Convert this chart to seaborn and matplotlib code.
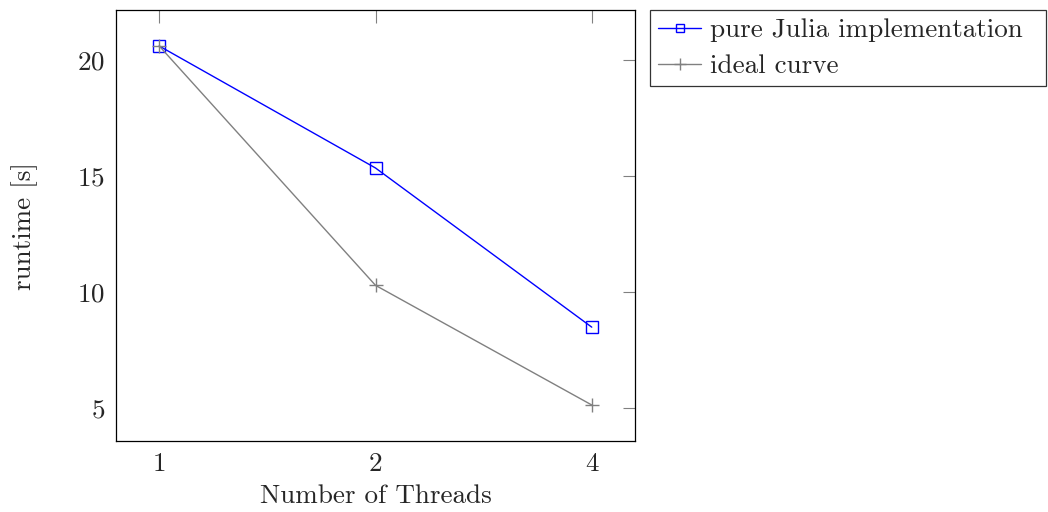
import matplotlib
matplotlib.use("Agg")
import matplotlib.pyplot as plt
import seaborn as sns
import pandas as pd

threads = ["1", "2", "4"]
julia_runtime = [20.6, 15.35, 8.5]
ideal_runtime = [20.6, 10.3, 5.15]
y_ticks = [5, 10, 15, 20]

sns.set_style("white")
plt.rcParams["font.family"] = "serif"
plt.rcParams["font.serif"] = ["cmr10", "DejaVu Serif"]
plt.rcParams["mathtext.fontset"] = "cm"
plt.rcParams["axes.formatter.use_mathtext"] = True

FS = 19.5

df = pd.DataFrame({
    "pos": list(range(len(threads))) * 2,
    "runtime": julia_runtime + ideal_runtime,
    "series": ["pure Julia implementation"] * 3 + ["ideal curve"] * 3,
})

fig = plt.figure(figsize=(10.48, 5.12), dpi=100)
ax = fig.add_axes([116 / 1048, 1 - 441 / 512, (635 - 116) / 1048, (441 - 10) / 512])

sns.lineplot(data=df[df.series == "pure Julia implementation"], x="pos", y="runtime",
             color="#0000ff", marker="s", markersize=8, markerfacecolor="none",
             markeredgecolor="#0000ff", markeredgewidth=1.0, linewidth=1.0,
             label="pure Julia implementation", ax=ax)
sns.lineplot(data=df[df.series == "ideal curve"], x="pos", y="runtime",
             color="#808080", marker="+", markersize=10, markeredgewidth=1.0,
             markeredgecolor="#808080", markerfacecolor="#808080",
             linewidth=1.0, label="ideal curve", ax=ax)

ax.set_xlim(-0.2, 2.2)
ax.set_ylim(3.6, 22.15)
ax.set_xticks(range(len(threads)))
ax.set_xticklabels(threads)
ax.set_yticks(y_ticks)
ax.set_xlabel("Number of Threads", fontsize=FS, labelpad=6)
ax.set_ylabel("runtime [s]", fontsize=FS, labelpad=28)
ax.tick_params(axis="both", direction="in", length=9, width=0.8, color="#808080",
               top=True, right=True, labelsize=FS, pad=8)
for s in ax.spines.values():
    s.set_color("black")
    s.set_linewidth(0.9)
    s.set_visible(True)

leg = ax.legend(loc="upper left", bbox_to_anchor=(650 / 1048, 1 - 90 / 512, 396 / 1048, 80 / 512),
                bbox_transform=fig.transFigure, mode="expand", frameon=True, fancybox=False,
                fontsize=FS, handlelength=1.6, handletextpad=0.3, borderaxespad=0,
                borderpad=0.3, labelspacing=0.45, markerscale=0.8)
leg.get_frame().set_edgecolor("black")
leg.get_frame().set_linewidth(0.9)

fig.savefig("out.png", dpi=100)
